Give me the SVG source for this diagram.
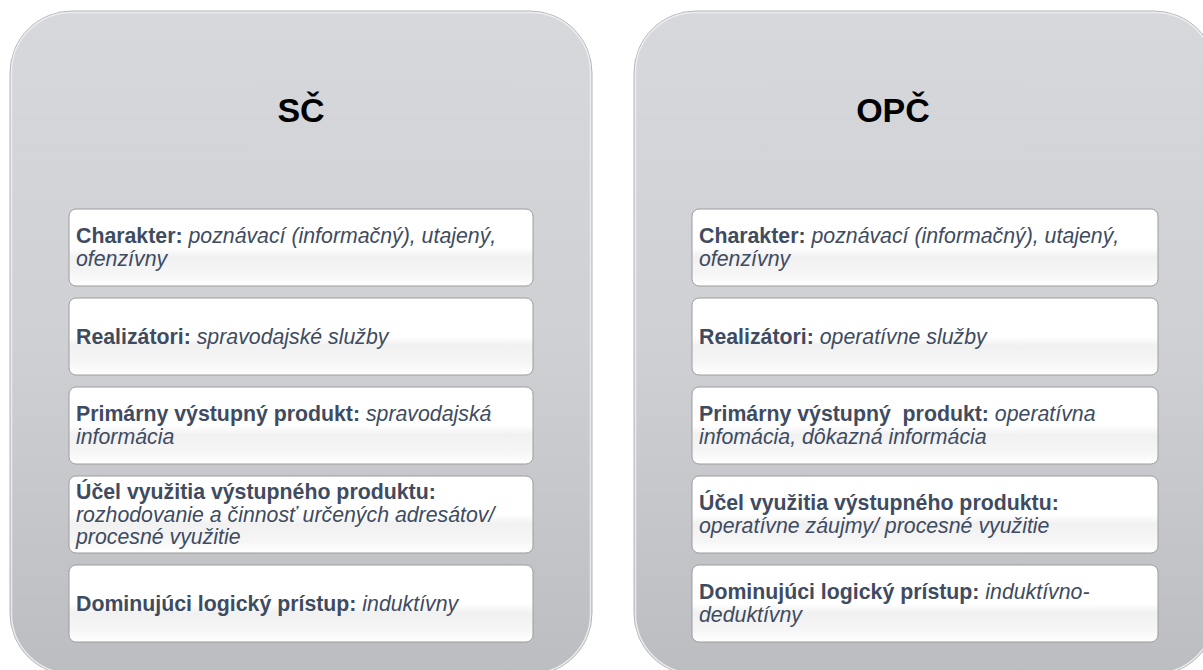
<svg xmlns="http://www.w3.org/2000/svg" width="1203" height="670" viewBox="0 0 1203 670">
  <defs>
    <linearGradient id="panelGrad" x1="0" y1="0" x2="0" y2="1">
      <stop offset="0" stop-color="#d7d8dc"/>
      <stop offset="0.5" stop-color="#cfd0d4"/>
      <stop offset="1" stop-color="#bcbdc1"/>
    </linearGradient>
    <linearGradient id="boxGrad" x1="0" y1="0" x2="0" y2="1">
      <stop offset="0" stop-color="#ffffff"/>
      <stop offset="0.5" stop-color="#ffffff"/>
      <stop offset="0.62" stop-color="#f1f1f2"/>
      <stop offset="0.85" stop-color="#f6f6f7"/>
      <stop offset="1" stop-color="#ffffff"/>
    </linearGradient>
  </defs>
  <style>
    .panel { fill: url(#panelGrad); stroke: #b3b4b8; stroke-width: 1; }
    .rim { fill: none; stroke: #eceef1; stroke-width: 1.5; opacity: 0.9; }
    .box { fill: url(#boxGrad); stroke: #9c9c9e; stroke-width: 1; }
    .title { font-family: "Liberation Sans", Arial, sans-serif; font-weight: bold; font-size: 34px; fill: #000000; text-anchor: middle; }
    .t { font-family: "Liberation Sans", Arial, sans-serif; font-size: 21.3px; fill: #3e4b61; white-space: pre; }
    .b { font-weight: bold; }
    .i { font-style: italic; }
  </style>

  <g id="panel-sc">
    <rect class="panel" x="10" y="11" width="582" height="664" rx="62" ry="62"/>
    <rect class="rim" x="11.5" y="12.5" width="579" height="661" rx="60" ry="60"/>
    <text class="title" x="301" y="122">SČ</text>
  </g>
  <g id="panel-opc">
    <rect class="panel" x="634" y="11" width="582" height="664" rx="62" ry="62"/>
    <rect class="rim" x="635.5" y="12.5" width="579" height="661" rx="60" ry="60"/>
    <text class="title" x="893" y="122">OPČ</text>
  </g>

  <g id="connectors"/>

  <g id="sc-charakter">
    <rect class="box" x="69" y="209" width="464" height="77" rx="7"/>
    <text class="t" x="76"><tspan x="76" y="243"><tspan class="b">Charakter:</tspan><tspan class="i"> poznávací (informačný), utajený,</tspan></tspan><tspan class="i" x="76" y="265.5">ofenzívny</tspan></text>
  </g>
  <g id="sc-realizatori">
    <rect class="box" x="69" y="298" width="464" height="77" rx="7"/>
    <text class="t" x="76" y="344"><tspan class="b">Realizátori:</tspan><tspan class="i"> spravodajské služby</tspan></text>
  </g>
  <g id="sc-produkt">
    <rect class="box" x="69" y="387" width="464" height="77" rx="7"/>
    <text class="t"><tspan x="76" y="421"><tspan class="b">Primárny výstupný produkt:</tspan><tspan class="i"> spravodajská</tspan></tspan><tspan class="i" x="76" y="443.5">informácia</tspan></text>
  </g>
  <g id="sc-ucel">
    <rect class="box" x="69" y="476" width="464" height="77" rx="7"/>
    <text class="t"><tspan class="b" x="76" y="499">Účel využitia výstupného produktu:</tspan><tspan class="i" x="76" y="521.5">rozhodovanie a činnosť určených adresátov/</tspan><tspan class="i" x="76" y="544">procesné využitie</tspan></text>
  </g>
  <g id="sc-pristup">
    <rect class="box" x="69" y="565" width="464" height="77" rx="7"/>
    <text class="t" x="76" y="611"><tspan class="b">Dominujúci logický prístup:</tspan><tspan class="i"> induktívny</tspan></text>
  </g>

  <g id="opc-charakter">
    <rect class="box" x="692" y="209" width="466" height="77" rx="7"/>
    <text class="t"><tspan x="699" y="243"><tspan class="b">Charakter:</tspan><tspan class="i"> poznávací (informačný), utajený,</tspan></tspan><tspan class="i" x="699" y="265.5">ofenzívny</tspan></text>
  </g>
  <g id="opc-realizatori">
    <rect class="box" x="692" y="298" width="466" height="77" rx="7"/>
    <text class="t" x="699" y="344"><tspan class="b">Realizátori:</tspan><tspan class="i"> operatívne služby</tspan></text>
  </g>
  <g id="opc-produkt">
    <rect class="box" x="692" y="387" width="466" height="77" rx="7"/>
    <text class="t"><tspan x="699" y="421"><tspan class="b">Primárny výstupný  produkt:</tspan><tspan class="i"> operatívna</tspan></tspan><tspan class="i" x="699" y="443.5">infomácia, dôkazná informácia</tspan></text>
  </g>
  <g id="opc-ucel">
    <rect class="box" x="692" y="476" width="466" height="77" rx="7"/>
    <text class="t"><tspan class="b" x="699" y="510">Účel využitia výstupného produktu:</tspan><tspan class="i" x="699" y="532.5">operatívne záujmy/ procesné využitie</tspan></text>
  </g>
  <g id="opc-pristup">
    <rect class="box" x="692" y="565" width="466" height="77" rx="7"/>
    <text class="t"><tspan x="699" y="599"><tspan class="b">Dominujúci logický prístup:</tspan><tspan class="i"> induktívno-</tspan></tspan><tspan class="i" x="699" y="621.5">deduktívny</tspan></text>
  </g>
</svg>
